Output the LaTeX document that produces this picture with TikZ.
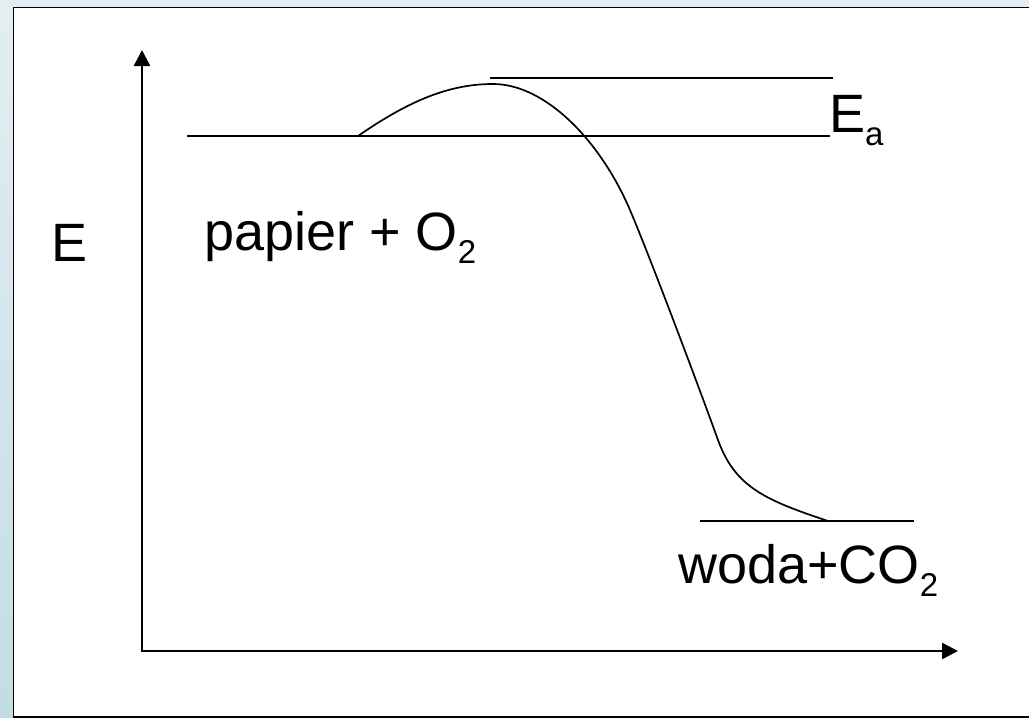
\documentclass[tikz,border=0pt]{standalone}
\usepackage{fontspec}
\setmainfont{Liberation Sans}
\usetikzlibrary{arrows.meta}
\definecolor{bgtop}{HTML}{E4EEF2}
\definecolor{bgbot}{HTML}{C3DCE4}
\newcommand{\subtwo}[1]{\raisebox{-13pt}{\fontsize{33}{33}\selectfont #1}}
\tikzset{
  lbl/.style={anchor=base west, inner sep=0pt, font=\fontsize{54}{54}\selectfont},
  axis/.style={line width=2.6pt, -{Triangle[length=16pt,width=16pt]}},
  level/.style={line width=1.8pt},
  curve/.style={line width=1.7pt},
}
\begin{document}
\begin{tikzpicture}[x=1pt,y=-1pt]
\useasboundingbox (0,0) rectangle (1029,718);
\shade[top color=bgtop, bottom color=bgbot] (0,0) rectangle (1029,718);
\fill[bgtop] (0,0) rectangle (1029,7);
\draw[line width=1.8pt, fill=white] (13.5,7.5) rectangle (1035,717);
% axes
\coordinate (O) at (142,651);
\coordinate (Ytip) at (142,50);
\coordinate (Xtip) at (958,651);
\draw[axis] (O) -- (Ytip);
\draw[axis] ([xshift=-1.3pt]O) -- (Xtip);
% levels
\coordinate (TS1) at (490,78);
\coordinate (TS2) at (833,78);
\coordinate (R1) at (187,136);
\coordinate (R2) at (830,136);
\coordinate (P1) at (700,521);
\coordinate (P2) at (914,521);
\draw[level] (TS1) -- (TS2);
\draw[level] (R1) -- (R2);
\draw[level, line width=1.4pt] (P1) -- (P2);
% curve
\coordinate (C0) at (358,136);
\coordinate (C1) at (493,84);
\coordinate (C2) at (630,210);
\coordinate (C3) at (718,440);
\coordinate (C4) at (828,521);
\draw[curve] (C0) .. controls (410,100) and (450,84) .. (C1)
  .. controls (545,84) and (600,140) .. (C2)
  .. controls (650,257) and (700,390) .. (C3)
  .. controls (735,487) and (765,500) .. (C4);
% labels
\node[lbl] (E) at (51,261) {E};
\node[lbl] (react) at (204,250) {papier + O\subtwo{2}};
\node[lbl] (Ea) at (829,132) {E\subtwo{a}};
\node[lbl] (prod) at (678,583) {woda+CO\subtwo{2}};
\end{tikzpicture}
\end{document}
